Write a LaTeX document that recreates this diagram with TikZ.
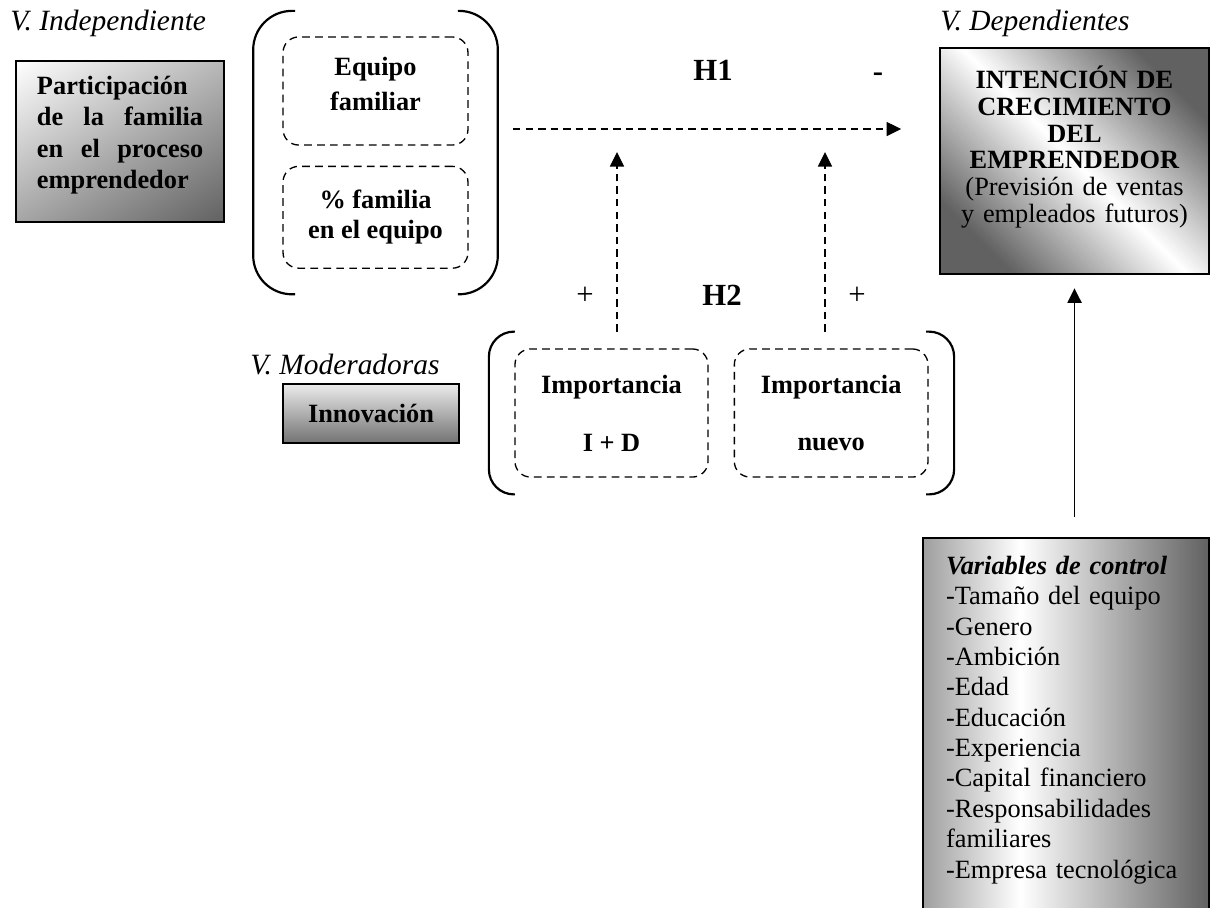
\documentclass[tikz,border=0pt,12pt]{standalone}
\usepackage{fontspec}
\setmainfont{Liberation Serif}
\usepackage{tikz}
\usetikzlibrary{
	arrows.meta, calc, shapes, shadings, positioning, fit
}
\pgfdeclarehorizontalshading{sombractrl}{100bp}{color(0bp)=(black!38); color(25bp)=(black!38); color(42bp)=(white); color(75bp)=(black!62); color(100bp)=(black!62)}
\tikzstyle{etiq} = [font=\fontsize{13.4}{15}\selectfont\itshape, anchor=west, inner sep=0pt]
\tikzstyle{hipo} = [font=\fontsize{14}{16}\selectfont\bfseries, inner sep=0pt]
\tikzstyle{signo} = [font=\fontsize{14}{16}\selectfont, inner sep=0pt]
\tikzstyle{caja} = [rectangle, draw=black, line width=0.9pt]
\tikzstyle{dimen} = [rectangle, draw=black, dash pattern=on 3.5pt off 2.4pt, rounded corners=0.25cm, line width=0.6pt, font=\fontsize{12}{13.8}\selectfont\bfseries, align=center, inner sep=0pt]
\tikzstyle{paren} = [line width=1pt]
\tikzstyle{flecha} = [-{Triangle[length=6.6pt,width=6.4pt]}, line width=0.75pt]
\tikzstyle{flechad} = [-{Triangle[length=6.6pt,width=6.4pt]}, line width=0.6pt, dash pattern=on 3.4pt off 2.3pt]

\begin{document}
\begin{tikzpicture}[x=0.016cm, y=-0.016cm, node distance=0.32cm]
	\useasboundingbox (0,0) rectangle (1210,907);
	
	% variable independiente
	\node[etiq] (lblind) at (10,23) {V. Independiente};
	\node[caja, anchor=north west, upper left=white, upper right=black!28, lower left=black!35, lower right=black!62, font=\fontsize{12}{14.2}\selectfont\bfseries, align=left, text width=2.66cm, inner xsep=0.336cm, inner ysep=0.24cm, text height=0.3cm, text depth=1.796cm] (indep) at (15,60) {Participación\\ \makebox[2.66cm][s]{de\hfill la\hfill familia}\\ \makebox[2.66cm][s]{en\hfill el\hfill proceso}\\ emprendedor};
	
	\node[dimen, minimum width=2.96cm, minimum height=1.73cm, font=\fontsize{12}{15.5}\selectfont\bfseries] (eqfam) at (375.5,91) {Equipo\\familiar\\[-9pt]};
	\node[dimen, minimum width=2.96cm, minimum height=1.63cm, below=of eqfam] (pctfam) {\% familia\\en el equipo};
	\node[fit=(eqfam)(pctfam), inner xsep=0.46cm, inner ysep=0.4cm] (grupo1) {};
	
	% variable dependiente
	\node[etiq] (lbldep) at (940,23) {V. Dependientes};
	\node[caja, anchor=north, top color=black!62, bottom color=black!62, middle color=white, shading angle=-45, font=\fontsize{12}{12.2}\selectfont, align=center, text width=3.9cm, inner xsep=0.2cm, inner ysep=0.27cm, text height=0.38cm, text depth=2.7cm] (dep) at (1074.5,47) {\textbf{INTENCIÓN DE}\\ \textbf{CRECIMIENTO}\\ \textbf{DEL}\\ \textbf{EMPRENDEDOR}\\ (Previsión de ventas\\ y empleados futuros)};
	
	% moderadoras
	\node[etiq] (lblmod) at (250,365) {V. Moderadoras};
	\node[rectangle, draw=black, line width=0.7pt, top color=black!8, bottom color=black!55, minimum width=2.82cm, minimum height=0.94cm, font=\fontsize{12}{13.8}\selectfont\bfseries] (innov) at (371,413.5) {Innovación};
	
	\node[dimen, minimum width=3.09cm, minimum height=2.05cm] (imp1) at (611.5,413) {Importancia\\[12.6pt]I + D};
	\node[dimen, minimum width=3.1cm, minimum height=2.05cm, right=0.4cm of imp1] (imp2) {Importancia\\[12.6pt]nuevo};
	\node[fit=(imp1)(imp2), inner xsep=0.4cm, inner ysep=0.26cm] (grupo2) {};
	
	% control
	\node[caja, anchor=north west, shade, shading=sombractrl, font=\fontsize{12}{13.84}\selectfont, align=left, text width=3.84cm, inner xsep=0.37cm, inner ysep=0.2cm, text height=0.38cm, text depth=6cm] (ctrl) at (922,537) {\textbf{\textit{Variables de control}}\\ -Tamaño del equipo\\ -Genero\\ -Ambición\\ -Edad\\ -Educación\\ -Experiencia\\ -Capital financiero\\ -Responsabilidades\\ familiares\\ -Empresa tecnológica};
	
	% hipotesis
	\node[hipo] (h1) at (713,70) {H1};
	\node[hipo] (neg) at (878,77) {-};
	\node[hipo] (h2) at (722,295) {H2};
	\node[signo] (pos1) at (585,296) {+};
	\node[signo] (pos2) at (857,296) {+};
	
	%parentesis
	\draw[paren, rounded corners=0.62cm] ($(grupo1.north west)+(42,0)$) -- (grupo1.north west) -- (grupo1.south west) -- ($(grupo1.south west)+(42,0)$);
	\draw[paren, rounded corners=0.62cm] ($(grupo1.north east)+(-40,0)$) -- (grupo1.north east) -- (grupo1.south east) -- ($(grupo1.south east)+(-40,0)$);
	\draw[paren, rounded corners=0.4cm] ($(grupo2.north west)+(26,0)$) -- (grupo2.north west) -- (grupo2.south west) -- ($(grupo2.south west)+(26,0)$);
	\draw[paren, rounded corners=0.4cm] ($(grupo2.north east)+(-28,0)$) -- (grupo2.north east) -- (grupo2.south east) -- ($(grupo2.south east)+(-28,0)$);
	
	%arrow
	\coordinate (h1i) at (513,129);
	\coordinate (m1) at (617,152);
	\coordinate (m2) at (825,152);
	\draw[flechad, shorten >=0.61cm] (h1i) -- (h1i -| dep.west);
	\draw[flechad] (m1 |- grupo2.north) -- (m1);
	\draw[flechad] (m2 |- grupo2.north) -- (m2);
	\draw[flecha, shorten <=0.32cm, shorten >=0.21cm] (ctrl.north -| dep.south) -- (dep.south);
	
\end{tikzpicture}
\end{document}
